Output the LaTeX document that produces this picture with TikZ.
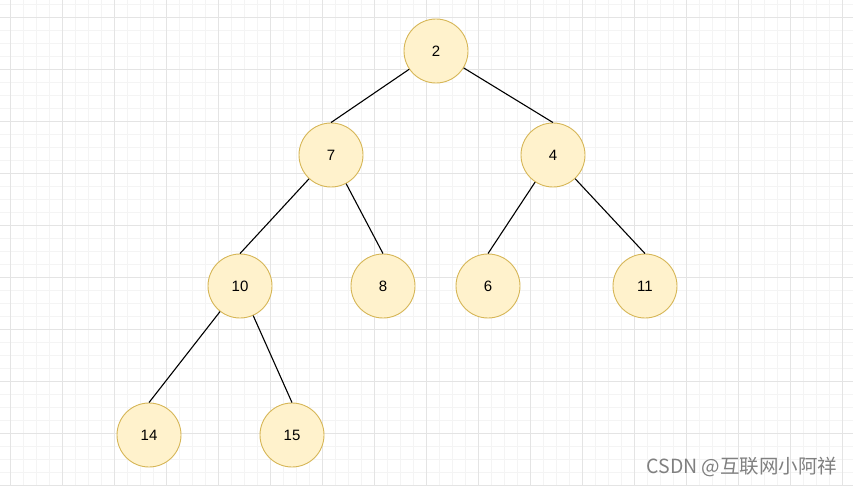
\documentclass[tikz,border=0pt]{standalone}
\usepackage{fontspec}
\setmainfont{Liberation Sans}
\newfontfamily\cjkfont{Noto Sans CJK SC}
\usepackage{xcolor}
\usepackage{tikz}
\usetikzlibrary{positioning}

\definecolor{nodefill}{HTML}{FFF2CC}
\definecolor{nodeline}{HTML}{D6B656}
\definecolor{gridminor}{HTML}{F4F4F4}
\definecolor{gridmajor}{HTML}{E4E4E4}

\begin{document}
\begin{tikzpicture}[
    x=1pt, y=-1pt,
    on grid,
    heap/.style={draw=nodeline, fill=nodefill, circle, minimum size=64pt, inner sep=0pt, line width=0.9pt, font=\fontsize{15}{17}\selectfont},
    link/.style={draw=black, line width=1.1pt},
    every node/.style={font=\fontsize{15}{17}\selectfont}
]
\useasboundingbox (0,0) rectangle (853,486);
\fill[white] (0,0) rectangle (853,486);

% background grid
\foreach \x in {-3,10,...,853} \draw[gridminor, line width=0.7pt] (\x,0) -- (\x,486);
\foreach \y in {4.3,17.3,...,486} \draw[gridminor, line width=0.7pt] (0,\y) -- (853,\y);
\foreach \x in {10,62,...,853} \draw[gridmajor, line width=0.8pt] (\x,0) -- (\x,486);
\foreach \y in {17.3,69.3,...,486} \draw[gridmajor, line width=0.8pt] (0,\y) -- (853,\y);

% Row 1: root
\node[heap] (n2) at (436,51) {2};

% Row 2
\node[heap, below left=104pt and 105pt of n2] (n7) {7};
\node[heap, below right=104pt and 117pt of n2] (n4) {4};

% Row 3
\node[heap, below left=131pt and 91pt of n7] (n10) {10};
\node[heap, below right=131pt and 52pt of n7] (n8) {8};
\node[heap, below left=131pt and 65pt of n4] (n6) {6};
\node[heap, below right=131pt and 92pt of n4] (n11) {11};

% Row 4
\node[heap, below left=149pt and 91pt of n10] (n14) {14};
\node[heap, below right=149pt and 52pt of n10] (n15) {15};

% edges: parent border to child top
\draw[link] (n2) -- (n7.north);
\draw[link] (n2) -- (n4.north);
\draw[link] (n7) -- (n10.north);
\draw[link] (n7) -- (n8.north);
\draw[link] (n4) -- (n6.north);
\draw[link] (n4) -- (n11.north);
\draw[link] (n10) -- (n14.north);
\draw[link] (n10) -- (n15.north);

% watermark
\node[text=black!50, font=\cjkfont\fontsize{19.5}{22}\selectfont] (mark) at (742,467) {CSDN @互联网小阿祥};

\end{tikzpicture}
\end{document}
